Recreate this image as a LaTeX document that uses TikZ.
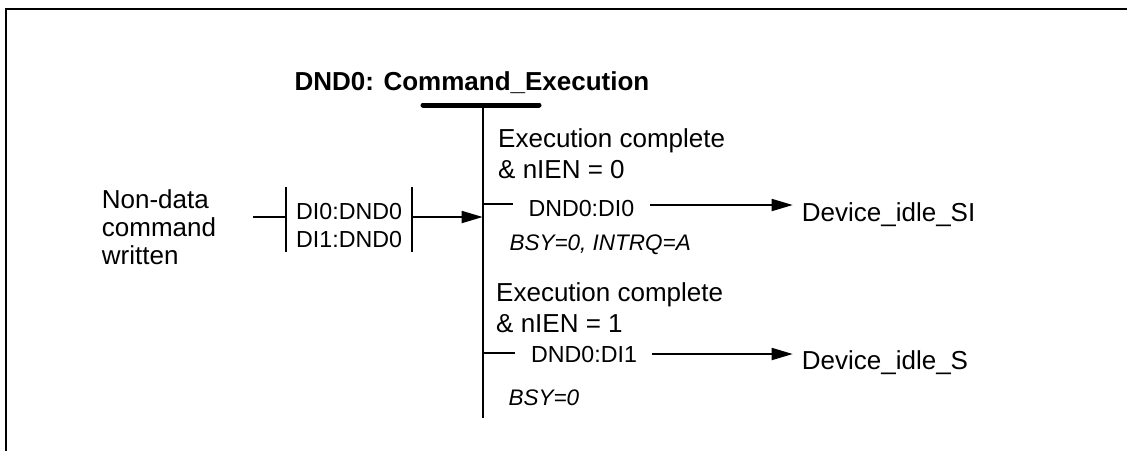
\documentclass[tikz,border=0pt]{standalone}
\usepackage{fontspec}
\setmainfont{Liberation Sans}
\usetikzlibrary{arrows.meta}
\tikzset{
      frame/.style={draw=black, line width=2},
      wire/.style={draw=black, line width=1.8},
      bar/.style={draw=black, line width=5, line cap=round},
      flow/.style={draw=black, line width=1.8, -{Triangle[length=21, width=12]}},
      lbl/.style={inner sep=0, anchor=base west, align=left,
            font=\fontsize{26}{31}\selectfont},
      tag/.style={inner sep=0, anchor=base west, align=left,
            font=\fontsize{23.2}{28.7}\selectfont},
      cond/.style={inner sep=0, anchor=base west,
            font=\fontsize{22.5}{26}\selectfont\itshape},
      head/.style={inner sep=0, anchor=base west,
            font=\fontsize{26}{31}\selectfont\bfseries},
}

\begin{document}
\begin{tikzpicture}[x=1pt, y=-1pt]
        \useasboundingbox (0,0) rectangle (1127,451);
        \draw[frame] (6,451) -- (6,8.5) -- (1127,8.5) ;

        % state bar and its title
        \node[head] (title) at (294.3,90.7) {DND0: Command\_Execution} ;
        \coordinate (barL) at (423,105) ;
        \coordinate (barR) at (539,105) ;
        \coordinate (top) at (482.7,105) ;
        \coordinate (bottom) at (482.7,418) ;
        \draw[bar] (barL) -- (barR) ;
        \draw[wire] (top) -- (bottom) ;

        % incoming transition (multi-line nodes sit on their last baseline)
        \node[lbl, font=\fontsize{26}{28}\selectfont] (nondata) at (101.7,264) {Non-data\\command\\written} ;
        \node[tag] (entry) at (296,247.7) {DI0:DND0\\DI1:DND0} ;
        \coordinate (stub) at (253,217) ;
        \coordinate (inL) at (286,217) ;
        \coordinate (inR) at (412,217) ;
        \coordinate (inEnd) at (482.7,217) ;
        \draw[wire] (stub) -- (inL) ;
        \draw[wire] (286,186.7) -- (286,252) ;
        \draw[wire] (412,186.7) -- (412,252) ;
        \draw[flow] (inR) -- (inEnd) ;

        % first exit
        \node[lbl] (done0) at (498,178.3) {Execution complete\\\& nIEN = 0} ;
        \node[tag] (exit0) at (528.3,216) {DND0:DI0} ;
        \node[cond] (act0) at (509.3,250) {BSY=0, INTRQ=A} ;
        \node[lbl] (idleSI) at (801.7,221.7) {Device\_idle\_SI} ;
        \coordinate (br0) at (482.7,204) ;
        \coordinate (br0e) at (512.7,204) ;
        \coordinate (ar0) at (650,205) ;
        \coordinate (ar0e) at (792.7,205) ;
        \draw[wire] (br0) -- (br0e) ;
        \draw[flow] (ar0) -- (ar0e) ;

        % second exit
        \node[lbl] (done1) at (496,332.7) {Execution complete\\\& nIEN = 1} ;
        \node[tag] (exit1) at (531,362.7) {DND0:DI1} ;
        \node[cond] (act1) at (508.3,405) {BSY=0} ;
        \node[lbl] (idleS) at (801.7,369.3) {Device\_idle\_S} ;
        \coordinate (br1) at (482.7,353.3) ;
        \coordinate (br1e) at (515,353.3) ;
        \coordinate (ar1) at (651.7,354) ;
        \coordinate (ar1e) at (792.7,354) ;
        \draw[wire] (br1) -- (br1e) ;
        \draw[flow] (ar1) -- (ar1e) ;

\end{tikzpicture}
\end{document}
